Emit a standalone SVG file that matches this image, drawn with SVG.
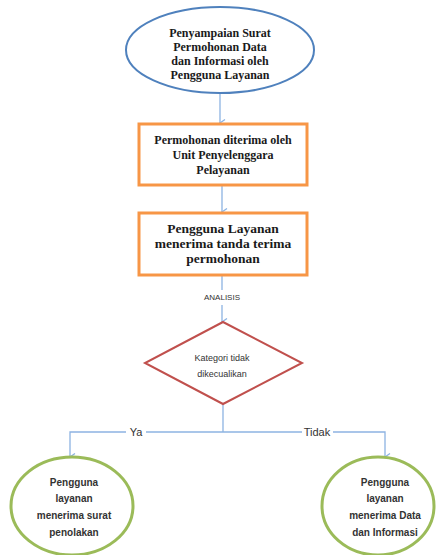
<svg xmlns="http://www.w3.org/2000/svg" width="438" height="555" viewBox="0 0 438 555">
<defs>
<style>
.serif{font-family:"Liberation Serif","DejaVu Serif",serif;font-weight:bold;fill:#1a1a1a;text-anchor:middle}
.sans{font-family:"Liberation Sans","DejaVu Sans",sans-serif;fill:#333;text-anchor:middle}
.conn{fill:none;stroke:#8DB3E2;stroke-width:1.3}
</style>
<marker id="arr" markerWidth="8" markerHeight="8" refX="4" refY="6" orient="auto" markerUnits="userSpaceOnUse" viewBox="0 0 8 8">
<path d="M0.5,1 L4,6 L7.5,1" fill="none" stroke="#8DB3E2" stroke-width="1.3"/>
</marker>
</defs>
<rect width="438" height="555" fill="#ffffff"/>
<g id="connectors">
<path class="conn" d="M220,92 V123" marker-end="url(#arr)"/>
<path class="conn" d="M222,185 V212" marker-end="url(#arr)"/>
<path class="conn" d="M222,275 V290"/>
<path class="conn" d="M222,305 V322" marker-end="url(#arr)"/>
<path class="conn" d="M223,404 V432"/>
<path class="conn" d="M223,432 H146"/>
<path class="conn" d="M126,432 H70 V457" marker-end="url(#arr)"/>
<path class="conn" d="M223,432 H302"/>
<path class="conn" d="M333,432 H385 V457" marker-end="url(#arr)"/>
<text class="sans" x="222" y="300" font-size="8">ANALISIS</text>
<text class="sans" x="136" y="436" font-size="11">Ya</text>
<text class="sans" x="317" y="436" font-size="11">Tidak</text>
</g>
<g id="start">
<ellipse cx="220" cy="50" rx="94" ry="43" fill="#ffffff" stroke="#4F81BD" stroke-width="2"/>
<text class="serif" font-size="12"><tspan x="220" y="37">Penyampaian Surat</tspan><tspan x="220" y="51">Permohonan Data</tspan><tspan x="220" y="65">dan Informasi oleh</tspan><tspan x="220" y="79">Pengguna Layanan</tspan></text>
</g>
<g id="received">
<rect x="139" y="124" width="168" height="61" fill="#ffffff" stroke="#F79646" stroke-width="3"/>
<text class="serif" font-size="12"><tspan x="223" y="144">Permohonan diterima oleh</tspan><tspan x="223" y="159">Unit Penyelenggara</tspan><tspan x="223" y="174">Pelayanan</tspan></text>
</g>
<g id="receipt">
<rect x="139" y="213" width="168" height="62" fill="#ffffff" stroke="#F79646" stroke-width="3"/>
<text class="serif" font-size="13.5"><tspan x="223" y="233">Pengguna Layanan</tspan><tspan x="223" y="248">menerima tanda terima</tspan><tspan x="223" y="263">permohonan</tspan></text>
</g>
<g id="decision">
<polygon points="223,322 302,363 223,404 145,363" fill="#ffffff" stroke="#C0504D" stroke-width="2"/>
<text class="sans" font-size="9"><tspan x="222" y="361">Kategori tidak</tspan><tspan x="222" y="377">dikecualikan</tspan></text>
</g>
<g id="reject">
<ellipse cx="72" cy="506" rx="61" ry="49" fill="#ffffff" stroke="#9BBB59" stroke-width="3"/>
<text class="sans" font-size="10" font-weight="bold" fill="#222"><tspan x="74" y="486">Pengguna</tspan><tspan x="74" y="502">layanan</tspan><tspan x="74" y="519">menerima surat</tspan><tspan x="74" y="536">penolakan</tspan></text>
</g>
<g id="accept">
<ellipse cx="378" cy="506" rx="56" ry="49" fill="#ffffff" stroke="#9BBB59" stroke-width="3"/>
<text class="sans" font-size="10" font-weight="bold" fill="#222"><tspan x="385" y="486">Pengguna</tspan><tspan x="385" y="502">layanan</tspan><tspan x="385" y="519">menerima Data</tspan><tspan x="385" y="536">dan Informasi</tspan></text>
</g>
</svg>
